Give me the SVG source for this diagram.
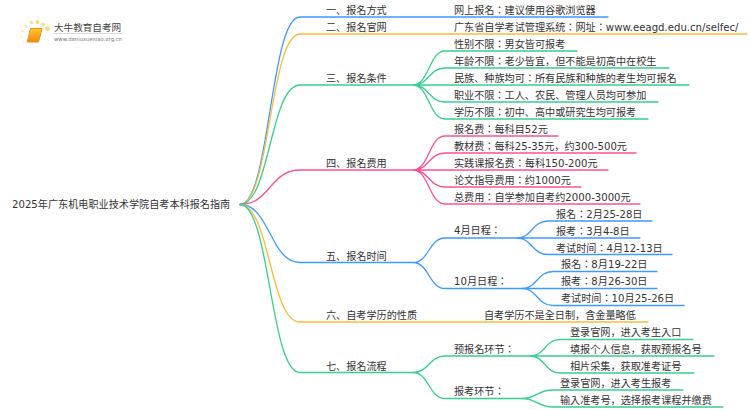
<svg xmlns="http://www.w3.org/2000/svg" width="750" height="410" viewBox="0 0 750 410">
<defs><linearGradient id="bk" x1="0" y1="0" x2="0" y2="1"><stop offset="0" stop-color="#ffc62e"/><stop offset="1" stop-color="#f28a0c"/></linearGradient></defs>
<style>
text{font-family:"DejaVu Sans","Noto Sans CJK KR",sans-serif;font-size:10.15px;fill:#333}
path{fill:none;stroke-width:1.3;stroke-linecap:round}
.b{stroke:#3d9bfb}.o{stroke:#fdbb38}.g{stroke:#36d08f}.p{stroke:#ff4f96}
</style>
<rect width="750" height="410" fill="#fff"/>
<g id="logo">
<circle cx="47.500" cy="28.500" r="2.300" fill="#ffd76e"/><circle cx="43" cy="24.500" r="1.900" fill="#ffdc85"/><circle cx="37.500" cy="22" r="1.900" fill="#ffd76e"/><circle cx="31.500" cy="22.500" r="1.800" fill="#ffdc85"/><circle cx="26" cy="26" r="1.500" fill="#ffe39c"/><circle cx="22.500" cy="31" r="1.300" fill="#ffe8b0"/><circle cx="21.500" cy="37" r="1.100" fill="#ffedc2"/><circle cx="23.500" cy="42.500" r="1" fill="#fff0cc"/>
<path d="M31 28.500h11l-3.500 13.500h-11z" style="fill:url(#bk);stroke:#ef8f14;stroke-width:1"/>
<text x="54" y="31" style="font-size:9.600px;fill:#444">大牛教育自考网</text>
<rect x="54" y="33" width="68" height="0.700" fill="#ccc"/>
<text x="54" y="41" style="font-size:5.300px;fill:#777">www.daniuxuexiao.org.cn</text>
</g>
<g id="connectors">
<path class="b" d="M240 204.500C270 204.500 270 17 300 17H608"/>
<path class="o" d="M240 204.500C270 204.500 270 34 300 34H747"/>
<path class="g" d="M240 204.500C270 204.500 270 85 300 85H413"/>
<path class="p" d="M240 204.500C270 204.500 270 170 300 170H413"/>
<path class="b" d="M240 204.500C270 204.500 270 262.500 300 262.500H413"/>
<path class="o" d="M240 204.500C270 204.500 270 322 300 322H648"/>
<path class="g" d="M240 204.500C270 204.500 270 372.500 300 372.500H413"/>
<path class="g" d="M413 85C429 85 429 51 445 51H577M413 85C429 85 429 68 445 68H669M413 85H689M413 85C429 85 429 102 445 102H658M413 85C429 85 429 119 445 119H648"/>
<path class="p" d="M413 170C429 170 429 136 445 136H558M413 170C429 170 429 153 445 153H636M413 170H608M413 170C429 170 429 187 445 187H581M413 170C429 170 429 204 445 204H640"/>
<path class="b" d="M413 262.500C429 262.500 429 238 445 238H517M413 262.500C429 262.500 429 288.500 445 288.500H522"/>
<path class="b" d="M517 238C532 238 532 221 548 221H652M517 238C532 238 532 238 548 238H640M517 238C532 238 532 254.500 548 254.500H672"/>
<path class="b" d="M522 288.500C537 288.500 537 271.500 553 271.500H657M522 288.500H657M522 288.500C537 288.500 537 305.500 553 305.500H684"/>
<path class="g" d="M413 372.500C429 372.500 429 356 445 356H530M413 372.500C429 372.500 429 398.500 445 398.500H522"/>
<path class="g" d="M530 356C545 356 545 339.500 560 339.500H693M530 356H714M530 356C545 356 545 373 560 373H694"/>
<path class="g" d="M522 398.500C537 398.500 537 390 553 390H683M522 398.500C537 398.500 537 407 553 407H723"/>
</g>
<g id="root"><text x="12" y="208">2025年广东机电职业技术学院自考本科报名指南</text></g>
<g id="n1"><text x="326" y="14">一、报名方式</text><text x="454" y="14">网上报名：建议使用谷歌浏览器</text></g>
<g id="n2"><text x="326" y="31">二、报名官网</text><text x="454" y="31">广东省自学考试管理系统：网址：www.eeagd.edu.cn/selfec/</text></g>
<g id="n3"><text x="326" y="82">三、报名条件</text>
<text x="454" y="48">性别不限：男女皆可报考</text><text x="454" y="65">年龄不限：老少皆宜，但不能是初高中在校生</text><text x="454" y="82">民族、种族均可：所有民族和种族的考生均可报名</text><text x="454" y="99">职业不限：工人、农民、管理人员均可参加</text><text x="454" y="116">学历不限：初中、高中或研究生均可报考</text></g>
<g id="n4"><text x="326" y="167">四、报名费用</text>
<text x="454" y="133">报名费：每科目52元</text><text x="454" y="150">教材费：每科25-35元，约300-500元</text><text x="454" y="167">实践课报名费：每科150-200元</text><text x="454" y="184">论文指导费用：约1000元</text><text x="454" y="201">总费用：自学参加自考约2000-3000元</text></g>
<g id="n5"><text x="326" y="260">五、报名时间</text>
<text x="454" y="234">4月日程：</text><text x="454" y="285">10月日程：</text>
<text x="556" y="218">报名：2月25-28日</text><text x="556" y="235">报考：3月4-8日</text><text x="556" y="252">考试时间：4月12-13日</text>
<text x="561" y="268">报名：8月19-22日</text><text x="561" y="285">报考：8月26-30日</text><text x="561" y="302">考试时间：10月25-26日</text></g>
<g id="n6"><text x="326" y="319">六、自考学历的性质</text><text x="484" y="319">自考学历不是全日制，含金量略低</text></g>
<g id="n7"><text x="326" y="370">七、报名流程</text>
<text x="454" y="353">预报名环节：</text><text x="454" y="395">报考环节：</text>
<text x="570" y="336">登录官网，进入考生入口</text><text x="570" y="353">填报个人信息，获取预报名号</text><text x="570" y="370">相片采集，获取准考证号</text>
<text x="560" y="387">登录官网，进入考生报考</text><text x="560" y="404">输入准考号，选择报考课程并缴费</text></g>
</svg>
